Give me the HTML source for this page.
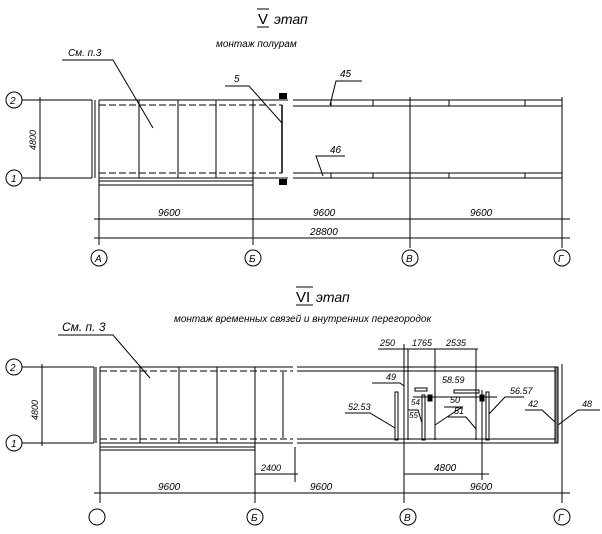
<!DOCTYPE html>
<html><head><meta charset="utf-8"><style>
body{margin:0;background:#fff}
svg{display:block}
text{font-family:"Liberation Sans",sans-serif;font-style:italic;fill:#000}
</style></head><body>
<svg width="602" height="534" viewBox="0 0 602 534" xmlns="http://www.w3.org/2000/svg" stroke="#000" stroke-width="1" fill="none">
<!-- ===== TOP ===== -->
<text x="258" y="24" font-size="15" stroke="none" style="font-style:normal">V</text>
<line x1="257" y1="27" x2="269" y2="27"/><line x1="257" y1="9" x2="269" y2="9"/>
<text x="274" y="24" font-size="14" stroke="none">этап</text>
<text x="216" y="47" font-size="10" stroke="none">монтаж полурам</text>
<text x="68" y="56" font-size="10" stroke="none">См. п.3</text>
<polyline points="62,60 113,60 153,128"/>
<!-- axes circles -->
<circle cx="14" cy="100" r="8"/><text x="10" y="104" font-size="10" stroke="none">2</text>
<circle cx="14" cy="178" r="8"/><text x="11" y="182" font-size="10" stroke="none">1</text>
<line x1="22" y1="100" x2="92" y2="100"/><line x1="22" y1="178" x2="92" y2="178"/>
<line x1="40" y1="97" x2="40" y2="181"/>
<text x="0" y="0" font-size="9" stroke="none" transform="translate(36,150) rotate(-90)">4800</text>
<line x1="92" y1="100" x2="92" y2="178"/><line x1="95" y1="100" x2="95" y2="178"/>
<!-- frame -->
<line x1="99" y1="100" x2="288" y2="100"/>
<line x1="99" y1="105" x2="282" y2="105" stroke-dasharray="7,3"/>
<line x1="99" y1="173" x2="282" y2="173" stroke-dasharray="7,3"/>
<line x1="99" y1="178" x2="288" y2="178"/>
<line x1="99" y1="100" x2="99" y2="245"/>
<line x1="139" y1="100" x2="139" y2="178"/>
<line x1="178" y1="100" x2="178" y2="178"/>
<line x1="216" y1="100" x2="216" y2="178"/>
<line x1="253" y1="100" x2="253" y2="245"/>
<line x1="282" y1="105" x2="282" y2="173" stroke-width="1.5"/>
<!-- clamps -->
<rect x="279" y="93" width="8" height="6" fill="#000" stroke="none"/>
<rect x="279" y="179" width="8" height="6" fill="#000" stroke="none"/>
<!-- right part -->
<line x1="293" y1="100" x2="562" y2="100"/><line x1="293" y1="106" x2="562" y2="106"/>
<line x1="293" y1="173" x2="562" y2="173"/><line x1="293" y1="178" x2="562" y2="178"/>
<line x1="331" y1="100" x2="331" y2="106"/><line x1="373" y1="100" x2="373" y2="106"/>
<line x1="449" y1="100" x2="449" y2="106"/><line x1="525" y1="100" x2="525" y2="106"/>
<line x1="331" y1="173" x2="331" y2="178"/><line x1="373" y1="173" x2="373" y2="178"/>
<line x1="449" y1="173" x2="449" y2="178"/><line x1="525" y1="173" x2="525" y2="178"/>
<line x1="410" y1="97" x2="410" y2="248"/>
<line x1="562" y1="97" x2="562" y2="248"/>
<line x1="99" y1="181" x2="253" y2="181"/><line x1="99" y1="185" x2="253" y2="185"/>
<!-- labels -->
<text x="234" y="82" font-size="10" stroke="none">5</text>
<polyline points="225,86 249,86 282,123"/>
<text x="340" y="77" font-size="10" stroke="none">45</text>
<polyline points="362,81 336,81 330,105"/>
<text x="330" y="153" font-size="10" stroke="none">46</text>
<polyline points="345,156 316,156 323,176"/>
<!-- dims -->
<line x1="94" y1="219" x2="570" y2="219"/>
<line x1="94" y1="238" x2="570" y2="238"/>
<text x="158" y="216" font-size="10" stroke="none">9600</text>
<text x="313" y="216" font-size="10" stroke="none">9600</text>
<text x="470" y="216" font-size="10" stroke="none">9600</text>
<text x="310" y="235" font-size="10" stroke="none">28800</text>
<circle cx="99" cy="258" r="8"/><text x="95" y="262" font-size="10" stroke="none">A</text>
<circle cx="253" cy="258" r="8"/><text x="249" y="262" font-size="10" stroke="none">Б</text>
<circle cx="410" cy="258" r="8"/><text x="406" y="262" font-size="10" stroke="none">В</text>
<circle cx="562" cy="258" r="8"/><text x="558" y="262" font-size="10" stroke="none">Г</text>
<!-- ===== BOTTOM ===== -->
<text x="296" y="302" font-size="15" stroke="none" style="font-style:normal">VI</text>
<line x1="296" y1="305" x2="313" y2="305"/><line x1="296" y1="287" x2="313" y2="287"/>
<text x="316" y="302" font-size="14" stroke="none">этап</text>
<text x="174" y="322" font-size="10" stroke="none">монтаж временных связей и внутренних перегородок</text>
<text x="62" y="331" font-size="12" stroke="none">См. п. 3</text>
<polyline points="58,335 113,335 150,378"/>
<circle cx="14" cy="367" r="8"/><text x="10" y="371" font-size="10" stroke="none">2</text>
<circle cx="14" cy="443" r="8"/><text x="11" y="447" font-size="10" stroke="none">1</text>
<line x1="22" y1="367" x2="94" y2="367"/><line x1="22" y1="443" x2="94" y2="443"/>
<line x1="42" y1="364" x2="42" y2="446"/>
<text x="0" y="0" font-size="9" stroke="none" transform="translate(38,420) rotate(-90)">4800</text>
<line x1="94" y1="367" x2="94" y2="443"/><line x1="96" y1="367" x2="96" y2="443"/>
<line x1="100" y1="367" x2="293" y2="367"/>
<line x1="100" y1="371" x2="293" y2="371" stroke-dasharray="7,3"/>
<line x1="100" y1="439" x2="293" y2="439" stroke-dasharray="7,3"/>
<line x1="100" y1="443" x2="293" y2="443"/>
<line x1="100" y1="367" x2="100" y2="503"/>
<line x1="140" y1="367" x2="140" y2="443"/>
<line x1="179" y1="367" x2="179" y2="443"/>
<line x1="217" y1="367" x2="217" y2="443"/>
<line x1="255" y1="367" x2="255" y2="503"/>
<line x1="283" y1="372" x2="283" y2="438"/>
<line x1="100" y1="447" x2="255" y2="447"/><line x1="100" y1="450" x2="255" y2="450"/>
<line x1="297" y1="367" x2="557" y2="367"/><line x1="297" y1="371" x2="557" y2="371"/>
<line x1="297" y1="439" x2="557" y2="439"/><line x1="297" y1="443" x2="557" y2="443"/>
<rect x="555" y="367" width="3" height="76" fill="#888"/>
<line x1="562" y1="364" x2="562" y2="503"/>
<line x1="295" y1="447" x2="295" y2="482"/>
<line x1="404" y1="344" x2="404" y2="503"/>
<line x1="408" y1="349" x2="408" y2="440"/>
<line x1="435" y1="349" x2="435" y2="440"/>
<line x1="476" y1="349" x2="476" y2="440"/>
<line x1="482" y1="390" x2="482" y2="480"/>
<rect x="395" y="392" width="3" height="48"/>
<rect x="422" y="395" width="3" height="45"/>
<rect x="486" y="392" width="3" height="48"/>
<line x1="413" y1="397" x2="497" y2="397"/>
<rect x="415" y="388" width="12" height="3"/>
<rect x="454" y="390" width="25" height="3"/>
<rect x="428" y="395" width="4" height="6" fill="#000"/>
<rect x="480" y="395" width="4" height="6" fill="#000"/>
<!-- part labels -->
<text x="386" y="380" font-size="9" stroke="none">49</text>
<polyline points="372,383 400,383 404,386"/>
<text x="348" y="410" font-size="9" stroke="none">52.53</text>
<polyline points="345,413 370,413 395,428"/>
<text x="411" y="405" font-size="8" stroke="none">54</text>
<text x="409" y="418" font-size="8" stroke="none">55</text>
<polyline points="408,410 418,410 422,423"/>
<text x="450" y="403" font-size="9" stroke="none">50</text>
<polyline points="444,407 462,407 435,425"/>
<text x="454" y="414" font-size="9" stroke="none">51</text>
<polyline points="448,417 466,417 476,429"/>
<text x="442" y="383" font-size="9" stroke="none">58.59</text>
<text x="510" y="394" font-size="9" stroke="none">56.57</text>
<polyline points="524,397 505,397 489,414"/>
<text x="528" y="407" font-size="9" stroke="none">42</text>
<polyline points="525,410 542,410 555,422"/>
<text x="582" y="407" font-size="9" stroke="none">48</text>
<polyline points="600,410 578,410 558,425"/>
<!-- top dims -->
<line x1="378" y1="349" x2="478" y2="349"/>
<text x="380" y="346" font-size="9" stroke="none">250</text>
<text x="412" y="346" font-size="9" stroke="none">1765</text>
<text x="446" y="346" font-size="9" stroke="none">2535</text>
<!-- lower dims -->
<line x1="255" y1="474" x2="298" y2="474"/>
<text x="261" y="471" font-size="9" stroke="none">2400</text>
<line x1="404" y1="474" x2="489" y2="474"/>
<text x="434" y="471" font-size="10" stroke="none">4800</text>
<line x1="94" y1="493" x2="570" y2="493"/>
<text x="158" y="490" font-size="10" stroke="none">9600</text>
<text x="310" y="490" font-size="10" stroke="none">9600</text>
<text x="470" y="490" font-size="10" stroke="none">9600</text>
<circle cx="97" cy="517" r="8"/>
<circle cx="255" cy="517" r="8"/><text x="251" y="521" font-size="10" stroke="none">Б</text>
<circle cx="408" cy="517" r="8"/><text x="404" y="521" font-size="10" stroke="none">В</text>
<circle cx="562" cy="517" r="8"/><text x="558" y="521" font-size="10" stroke="none">Г</text>
</svg>
</body></html>
